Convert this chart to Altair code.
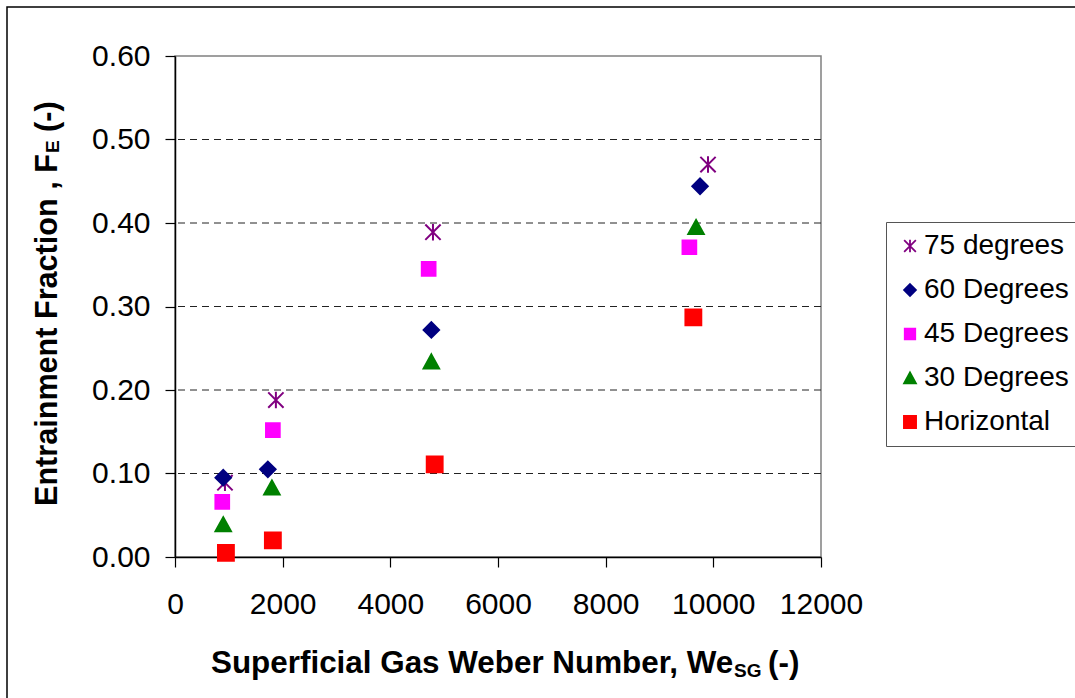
import altair as alt
import pandas as pd

# Series definitions (legend order = drawing order)
series_names = ["75 degrees", "60 Degrees", "45 Degrees", "30 Degrees", "Horizontal"]
series_stroke = ["#800080", "#000080", "#FF00FF", "#008000", "#FF0000"]
series_fill = ["transparent", "#000080", "#FF00FF", "#008000", "#FF0000"]

# Marker outlines in unit coordinates, all drawn with one common symbol size
STAR = "M0,-0.92L0,0.92M-0.85,-0.85L0.85,0.85M-0.85,0.85L0.85,-0.85"
DIAMOND = "M0,-0.86L0.86,0L0,0.86L-0.86,0Z"
SQUARE_SMALL = "M-0.76,-0.76L0.76,-0.76L0.76,0.76L-0.76,0.76Z"
TRIANGLE = "M0,-0.8L0.86,0.76L-0.86,0.76Z"
SQUARE_LARGE = "M-0.88,-0.88L0.88,-0.88L0.88,0.88L-0.88,0.88Z"
series_shape = [STAR, DIAMOND, SQUARE_SMALL, TRIANGLE, SQUARE_LARGE]

# Superficial gas Weber number and entrainment fraction per inclination
we_75 = [928, 1874, 4792, 9901]
fe_75 = [0.089, 0.188, 0.389, 0.470]
we_60 = [896, 1725, 4762, 9753]
fe_60 = [0.095, 0.105, 0.272, 0.444]
we_45 = [878, 1818, 4712, 9555]
fe_45 = [0.066, 0.152, 0.345, 0.371]
we_30 = [896, 1800, 4762, 9679]
fe_30 = [0.039, 0.083, 0.234, 0.395]
we_h = [946, 1818, 4824, 9629]
fe_h = [0.005, 0.020, 0.111, 0.287]

x_ticks = [0, 2000, 4000, 6000, 8000, 10000, 12000]
y_ticks = [0.0, 0.1, 0.2, 0.3, 0.4, 0.5, 0.6]
grid_values = [0.1, 0.2, 0.3, 0.4, 0.5]

rows = []
for name, xs, ys in zip(series_names,
                        [we_75, we_60, we_45, we_30, we_h],
                        [fe_75, fe_60, fe_45, fe_30, fe_h]):
    for xv, yv in zip(xs, ys):
        rows.append({"series": name, "We": xv, "FE": yv})
df = pd.DataFrame(rows)

FONT = "Liberation Sans"

legend = alt.Legend(
    title=None, orient="none", legendX=711, legendY=166,
    labelFont=FONT, labelFontSize=28, labelColor="black", labelLimit=300,
    symbolSize=190, symbolStrokeWidth=1.8,
    padding=10, strokeColor="#555555", fillColor="white",
    rowPadding=16, labelOffset=0,
)

x_enc = alt.X("We:Q", scale=alt.Scale(domain=[0, 12000], nice=False),
              axis=alt.Axis(values=x_ticks, title=None, labelPadding=22, format="d",
                            labelOverlap=False, labelFlush=False))
y_enc = alt.Y("FE:Q", scale=alt.Scale(domain=[0, 0.6], nice=False),
              axis=alt.Axis(values=y_ticks, title=None, format=".2f", labelPadding=15,
                            labelOverlap=False, labelFlush=False))

grid = alt.Chart(pd.DataFrame({"g": grid_values})).mark_rule(
    color="#222222", strokeWidth=1, strokeDash=[7, 5]
).encode(y=alt.Y("g:Q", scale=alt.Scale(domain=[0, 0.6], nice=False)))

points = alt.Chart(df).mark_point(opacity=1, strokeWidth=2, size=324).encode(
    x=x_enc,
    y=y_enc,
    shape=alt.Shape("series:N", scale=alt.Scale(domain=series_names, range=series_shape), legend=legend),
    fill=alt.Fill("series:N", scale=alt.Scale(domain=series_names, range=series_fill), legend=legend),
    stroke=alt.Stroke("series:N", scale=alt.Scale(domain=series_names, range=series_stroke), legend=legend),
)


def title_piece(text, x, y, size, angle=0):
    return alt.Chart(alt.Data(values=[{"t": text}])).mark_text(
        font=FONT, fontWeight="bold", fontSize=size, align="left",
        baseline="alphabetic", angle=angle, color="black"
    ).encode(x=alt.value(x), y=alt.value(y), text="t:N")


# Axis titles with subscripts, assembled from pieces
x_title = [
    title_piece("Superficial Gas Weber Number, We", 36, 617, 31.4),
    title_piece("SG", 559, 621, 19),
    title_piece("(-)", 593, 617, 31.4),
]
y_title = [
    title_piece("Entrainment Fraction , F", -118.5, 450, 30.6, 270),
    title_piece("E", -116.5, 97, 19, 270),
    title_piece("(-)", -118.5, 76, 30.6, 270),
]

# Outer chart border
border = alt.Chart(alt.Data(values=[{"b": 1}])).mark_rect(
    filled=False, stroke="black", strokeWidth=1.5
).encode(x=alt.value(-168), y=alt.value(-49), x2=alt.value(930), y2=alt.value(680))

chart = alt.layer(grid, points, border, *x_title, *y_title).properties(
    width=646, height=501,
    autosize=alt.AutoSizeParams(type="none"),
    padding={"left": 175, "top": 56, "right": 254, "bottom": 141},
    background="white",
).configure_view(
    stroke="#808080", strokeWidth=1.5
).configure_axis(
    domainColor="black", domainWidth=1.5, tickColor="black", tickWidth=1.2,
    tickSize=10, labelFont=FONT, labelFontSize=30, labelColor="black", grid=False,
)

chart.save("out.html", embed_options={"renderer": "svg", "actions": False})
